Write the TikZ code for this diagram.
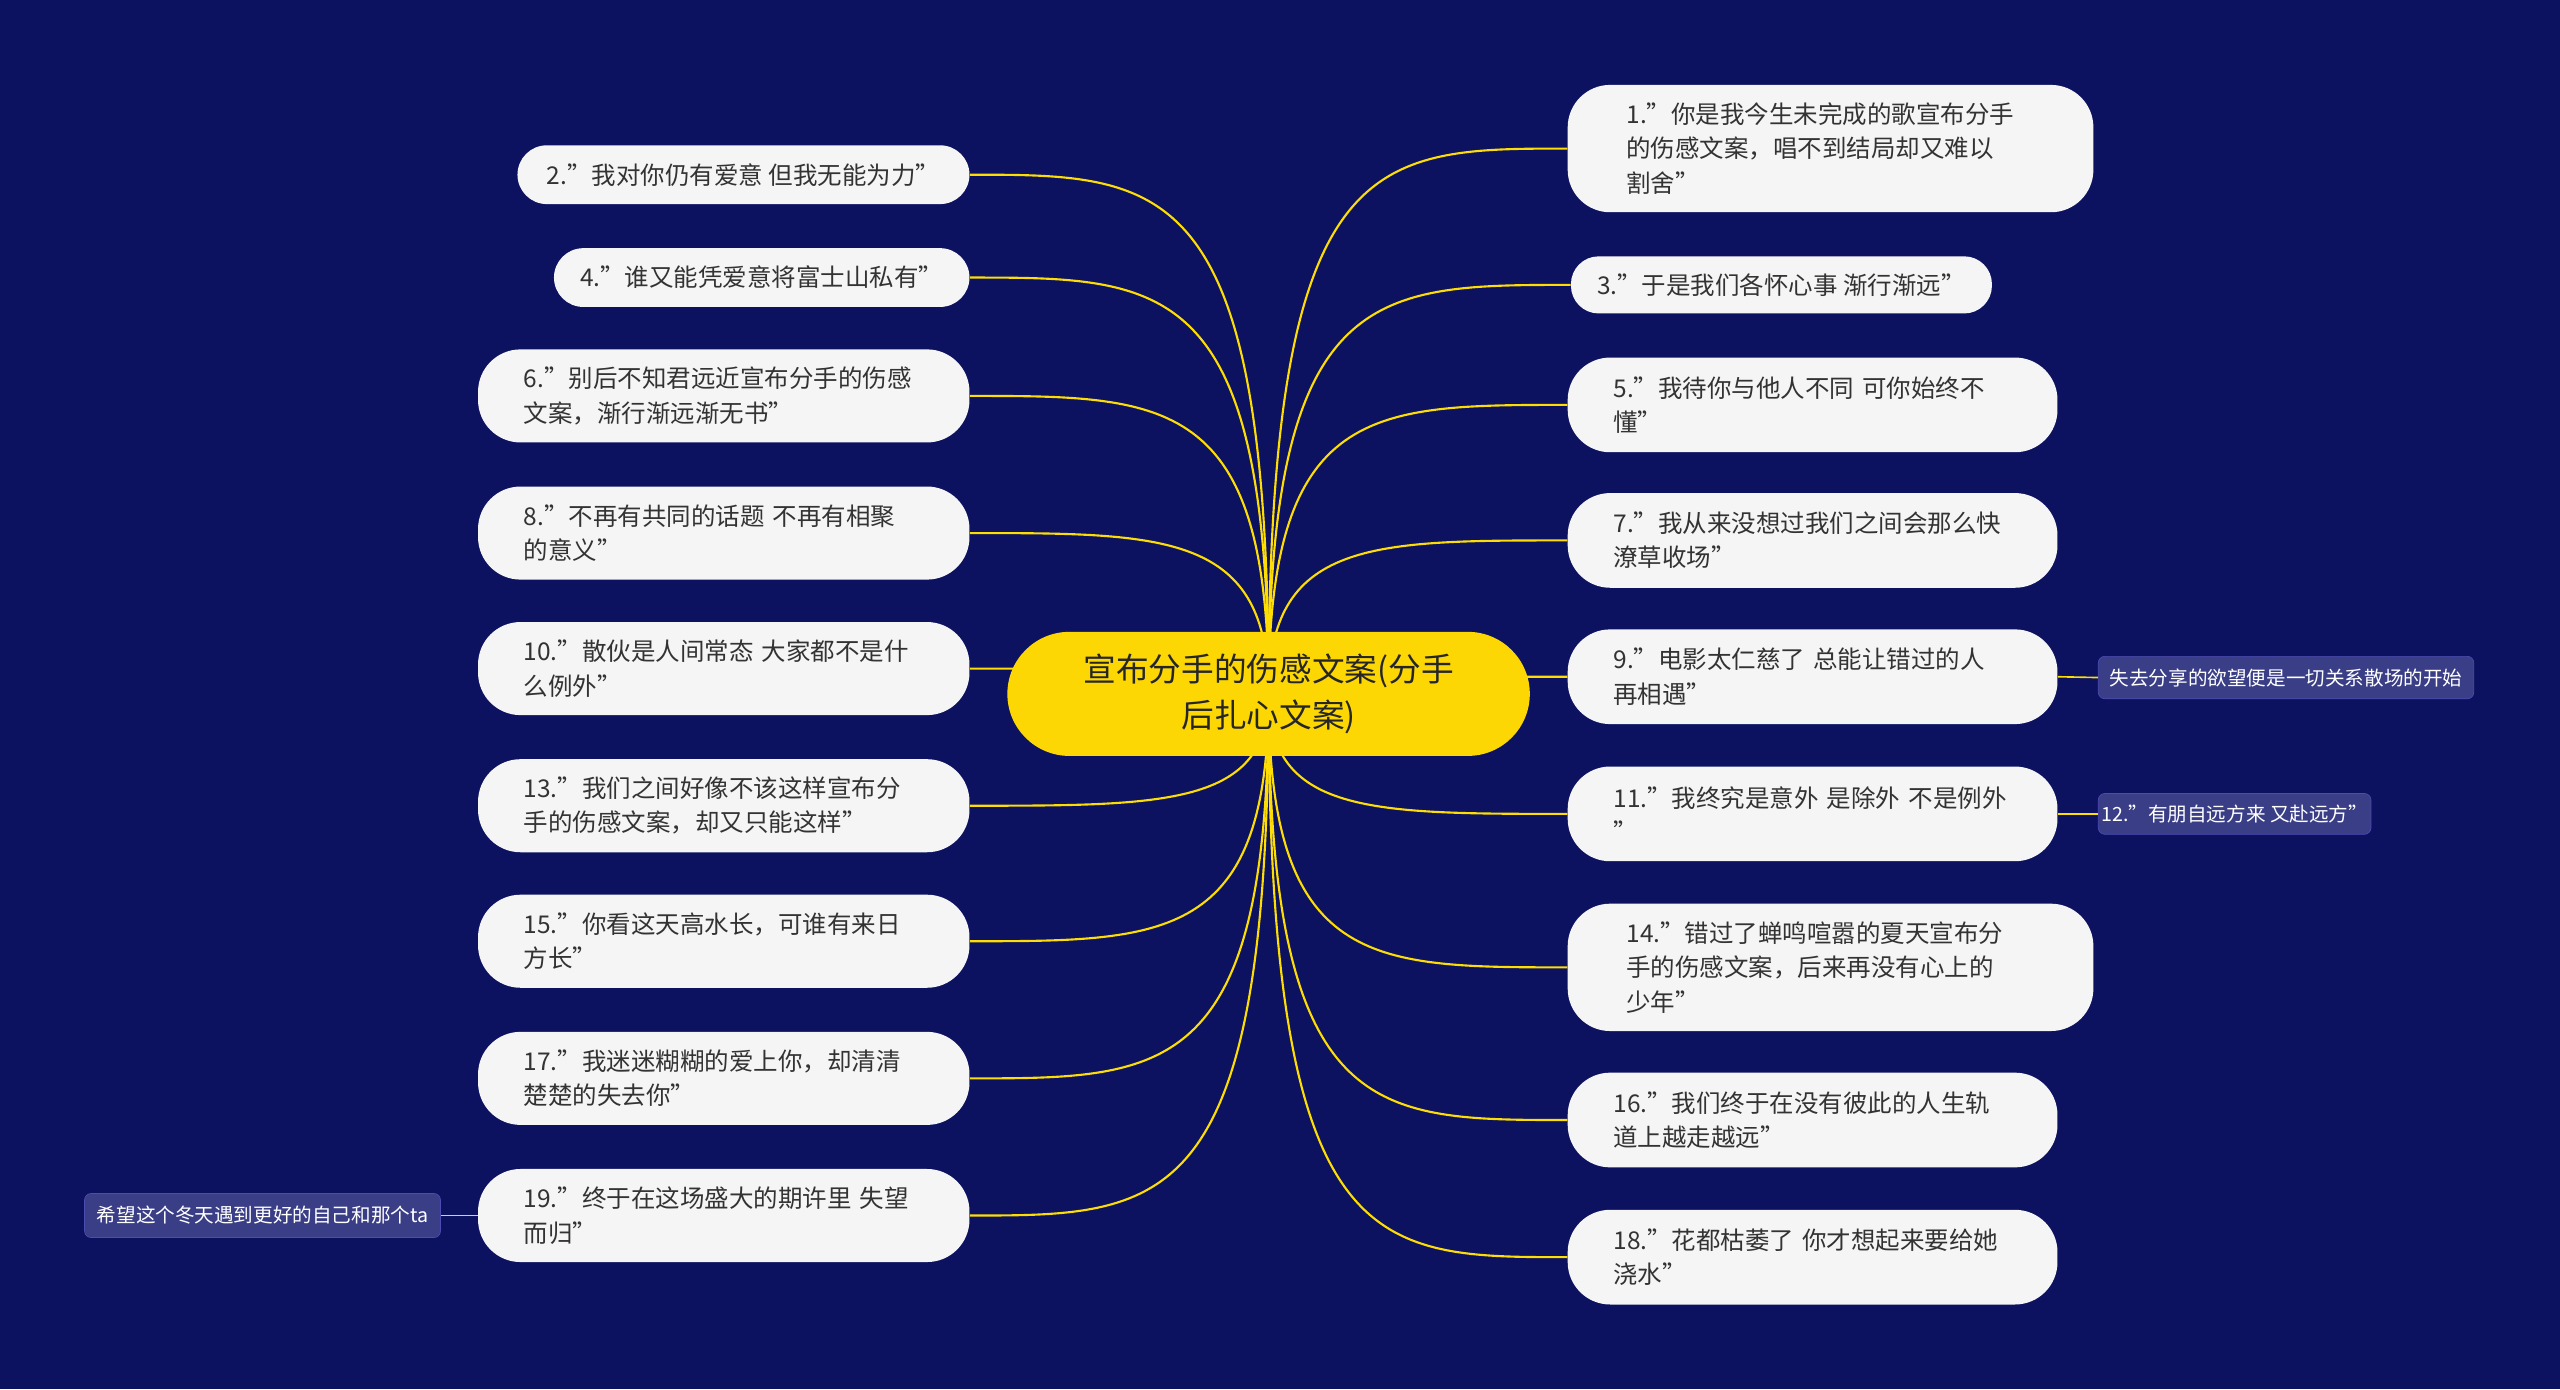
\documentclass[tikz,border=0pt]{standalone}
\usepackage{fontspec}
\setmainfont{Noto Sans CJK SC}
\begin{document}
\begin{tikzpicture}[x=1pt,y=-1pt,
 leaf/.style={fill=white!96!black,rounded corners=26pt,align=left,inner xsep=28pt,inner ysep=0pt,font=\fontsize{15}{21}\selectfont,text=black!80},
 tiny/.style={fill=blue!50!black!60!white!30!black,draw=blue!40!gray,rounded corners=4pt,inner sep=0pt,font=\fontsize{12}{14}\selectfont,text=white,align=center},
 link/.style={draw=yellow!80!orange,line width=1.3pt},
 thin/.style={draw=yellow!80!orange,line width=1pt}]
\definecolor{bg}{HTML}{0C1260}
\fill[bg] (0,0) rectangle (1568,851);
\useasboundingbox (0,0) rectangle (1568,851);
\tikzset{tiny/.append style={fill=bg!80!white!95!blue}}
% right
\node[leaf,anchor=west,minimum width=322pt,minimum height=78pt,text width=250pt,inner xsep=36pt] (n1) at (960,91) {1."你是我今生未完成的歌宣布分手\\的伤感文案，唱不到结局却又难以\\割舍"};
\node[leaf,anchor=west,minimum width=253pt,minimum height=35pt,rounded corners=17pt,inner xsep=16pt] (n3) at (962,174.5) {3."于是我们各怀心事 渐行渐远"};
\node[leaf,anchor=west,minimum width=300pt,minimum height=58pt,text width=244pt] (n5) at (960,248) {5."我待你与他人不同 可你始终不\\懂"};
\node[leaf,anchor=west,minimum width=300pt,minimum height=58pt,text width=244pt] (n7) at (960,331) {7."我从来没想过我们之间会那么快\\潦草收场"};
\node[leaf,anchor=west,minimum width=300pt,minimum height=58pt,text width=244pt] (n9) at (960,414.5) {9."电影太仁慈了 总能让错过的人\\再相遇"};
\node[leaf,anchor=west,minimum width=300pt,minimum height=58pt,text width=244pt] (n11) at (960,498.5) {11."我终究是意外 是除外 不是例外\\"};
\node[leaf,anchor=west,minimum width=322pt,minimum height=78pt,text width=250pt,inner xsep=36pt] (n14) at (960,592.5) {14."错过了蝉鸣喧嚣的夏天宣布分\\手的伤感文案，后来再没有心上的\\少年"};
\node[leaf,anchor=west,minimum width=300pt,minimum height=58pt,text width=244pt] (n16) at (960,686) {16."我们终于在没有彼此的人生轨\\道上越走越远"};
\node[leaf,anchor=west,minimum width=300pt,minimum height=58pt,text width=244pt] (n18) at (960,770) {18."花都枯萎了 你才想起来要给她\\浇水"};
% left
\node[leaf,anchor=east,minimum width=271pt,minimum height=36pt,rounded corners=18pt,inner xsep=18pt] (n2) at (594,107) {2."我对你仍有爱意 但我无能为力"};
\node[leaf,anchor=east,minimum width=249pt,minimum height=36pt,rounded corners=18pt,inner xsep=16pt] (n4) at (594,170) {4."谁又能凭爱意将富士山私有"};
\node[leaf,anchor=east,minimum width=301pt,minimum height=57pt,text width=245pt] (n6) at (594,242.5) {6."别后不知君远近宣布分手的伤感\\文案，渐行渐远渐无书"};
\node[leaf,anchor=east,minimum width=301pt,minimum height=57pt,text width=245pt] (n8) at (594,326.5) {8."不再有共同的话题 不再有相聚\\的意义"};
\node[leaf,anchor=east,minimum width=301pt,minimum height=57pt,text width=245pt] (n10) at (594,409.5) {10."散伙是人间常态 大家都不是什\\么例外"};
\node[leaf,anchor=east,minimum width=301pt,minimum height=57pt,text width=245pt] (n13) at (594,493.5) {13."我们之间好像不该这样宣布分\\手的伤感文案，却又只能这样"};
\node[leaf,anchor=east,minimum width=301pt,minimum height=57pt,text width=245pt] (n15) at (594,576.5) {15."你看这天高水长，可谁有来日\\方长"};
\node[leaf,anchor=east,minimum width=301pt,minimum height=57pt,text width=245pt] (n17) at (594,660.5) {17."我迷迷糊糊的爱上你，却清清\\楚楚的失去你"};
\node[leaf,anchor=east,minimum width=301pt,minimum height=57pt,text width=245pt] (n19) at (594,744.5) {19."终于在这场盛大的期许里 失望\\而归"};
% small
\node[tiny,anchor=west,minimum width=230pt,minimum height=26pt] (s9) at (1285,415) {失去分享的欲望便是一切关系散场的开始};
\node[tiny,anchor=west,minimum width=167pt,minimum height=25pt] (s11) at (1285,498.5) {12."有朋自远方来 又赴远方"};
\node[tiny,anchor=east,minimum width=218pt,minimum height=27pt] (s19) at (270,744.5) {希望这个冬天遇到更好的自己和那个ta};
\draw[thin] (n9.east) -- (s9.west);
\draw[thin] (n11.east) -- (s11.west);
\draw[thin] (n19.west) -- (s19.east);
% links
\coordinate (c) at (777,425);
\foreach \n in {n1,n3,n5,n7,n9,n11,n14,n16,n18}{
 \draw[link] (c) .. controls (c|-\n.west) and ([xshift=-120pt]\n.west) .. (\n.west);}
\foreach \n in {n2,n4,n6,n8,n10,n13,n15,n17,n19}{
 \draw[link] (c) .. controls (c|-\n.east) and ([xshift=120pt]\n.east) .. (\n.east);}
\node[fill=yellow!75!orange,rounded corners=38pt,minimum width=320pt,minimum height=76pt,align=center,font=\fontsize{20}{28}\selectfont,text=black!85] (c0) at (777,425) {宣布分手的伤感文案(分手\\后扎心文案)};
\end{tikzpicture}
\end{document}
